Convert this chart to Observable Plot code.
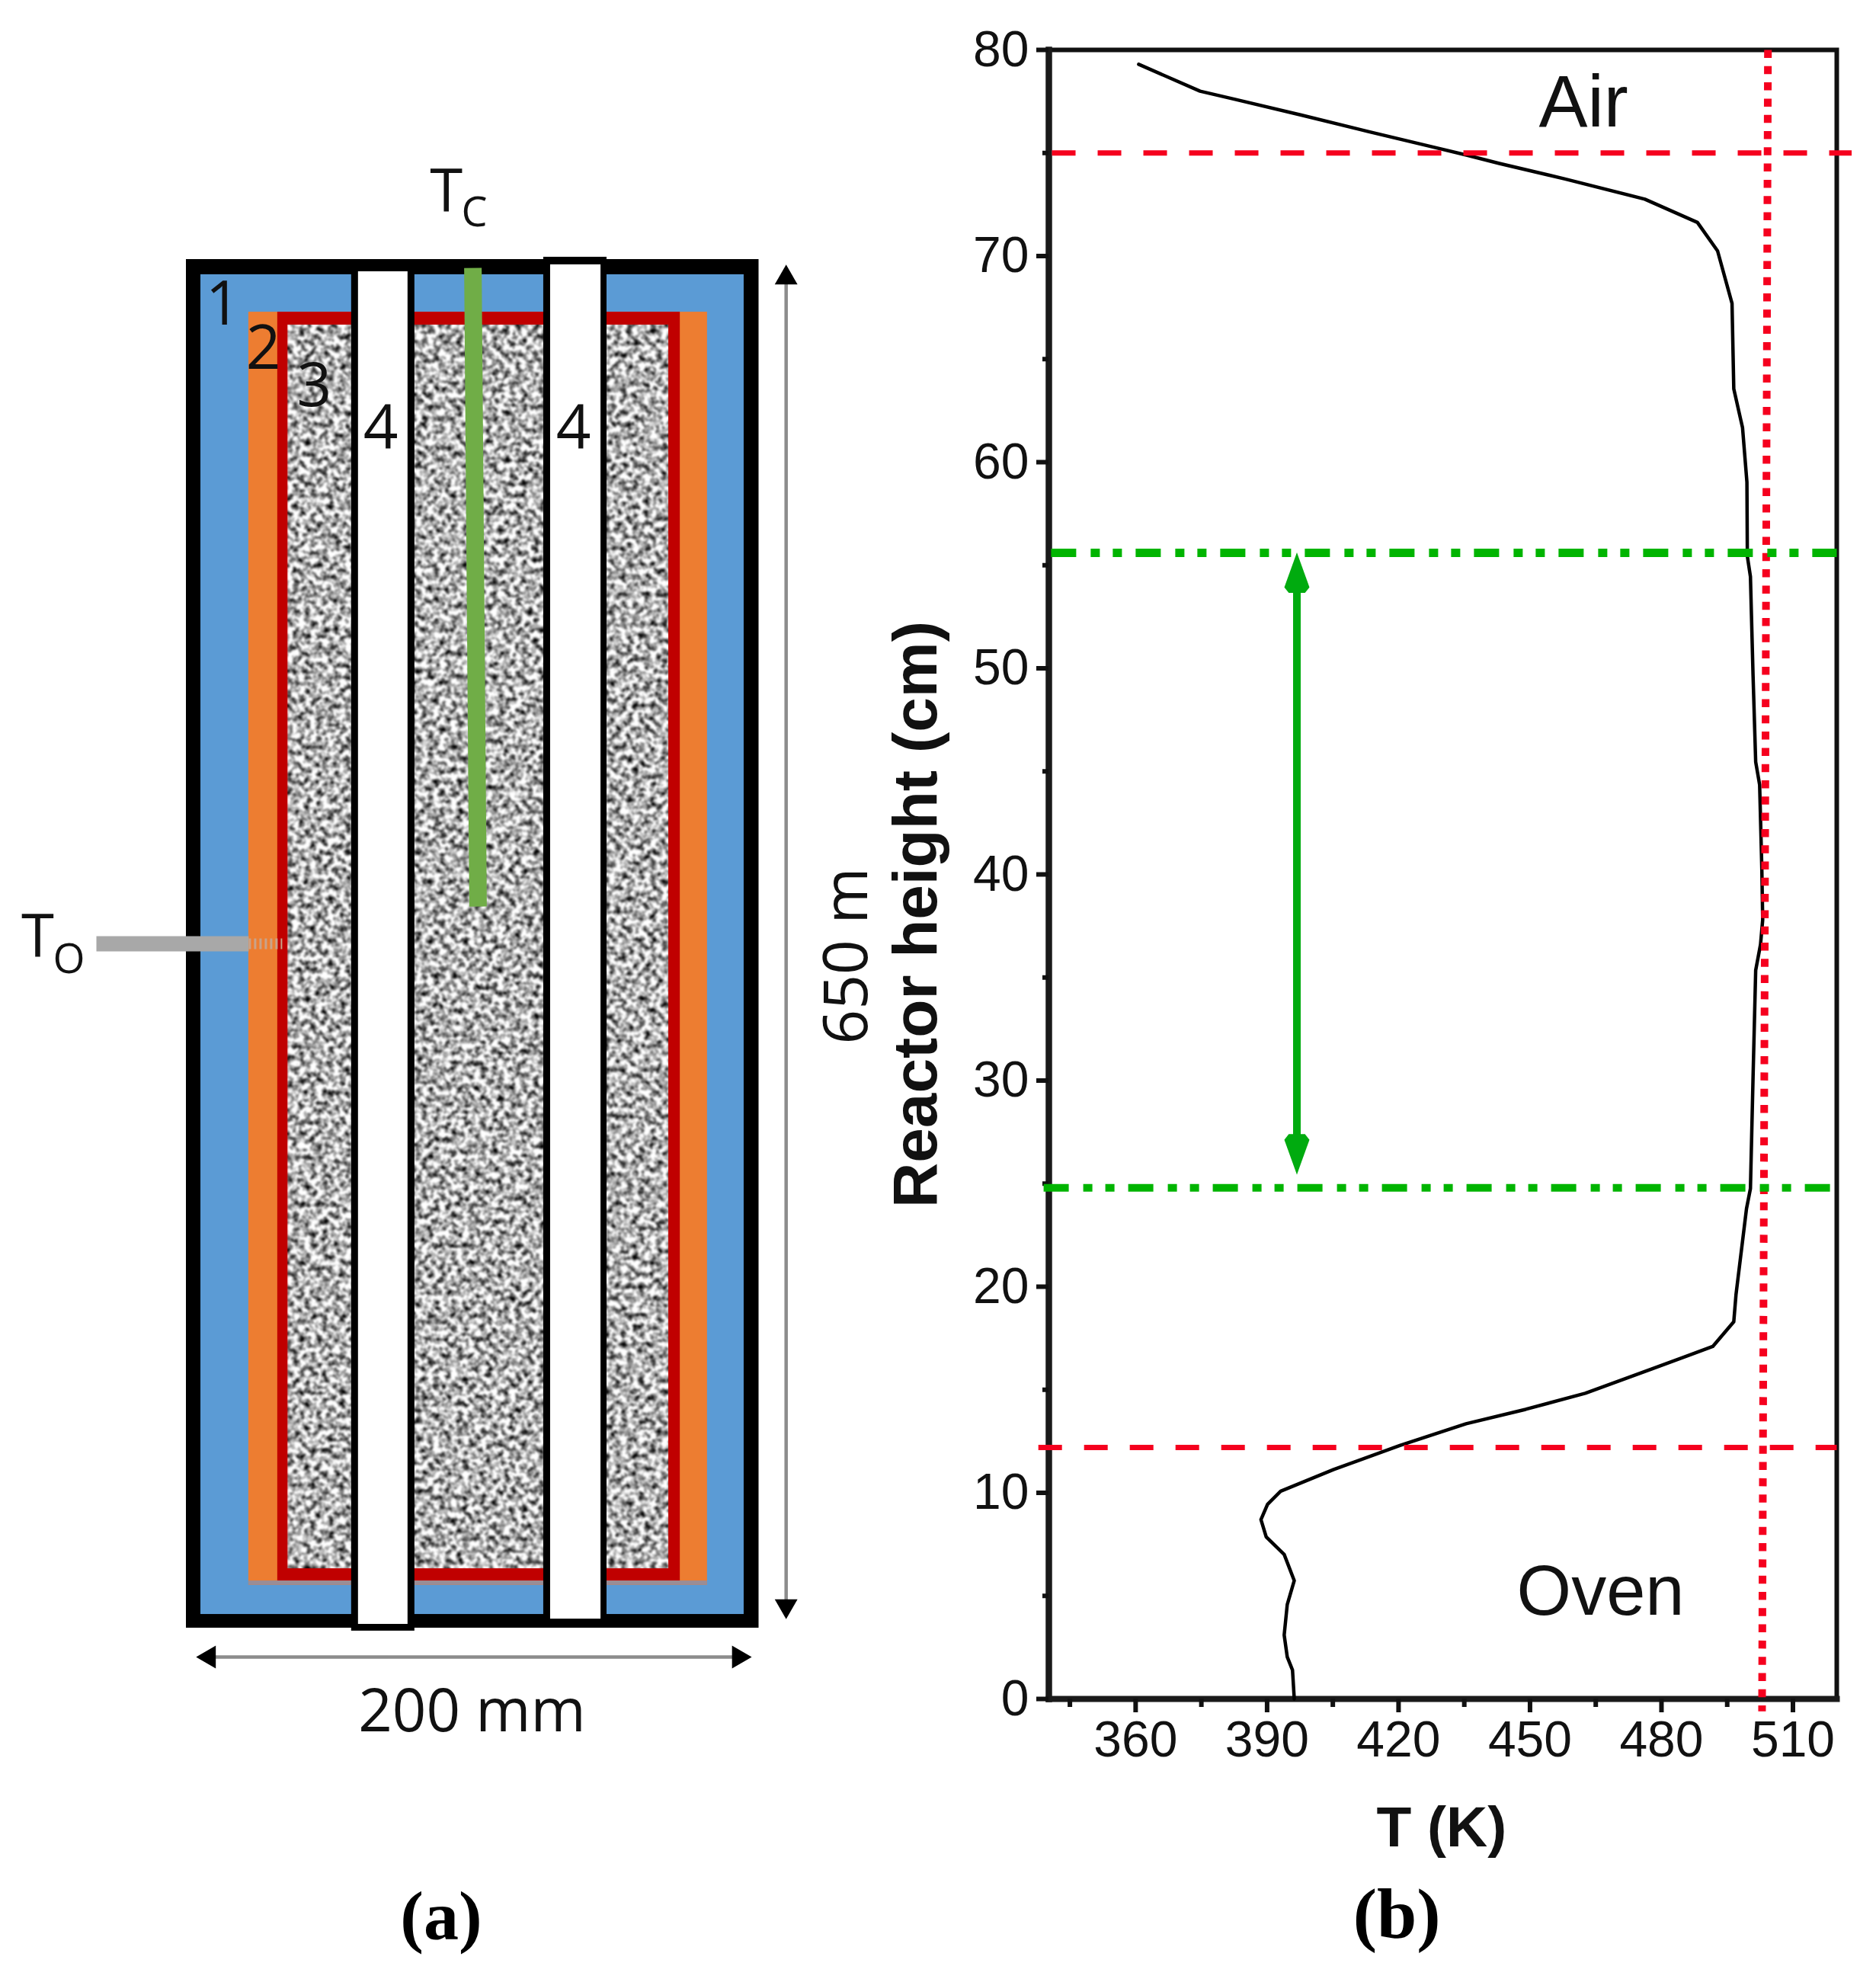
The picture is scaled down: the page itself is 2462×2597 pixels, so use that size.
<!DOCTYPE html>
<html>
<head>
<meta charset="utf-8">
<script src="https://cdn.jsdelivr.net/npm/d3@7"></script>
<script src="https://cdn.jsdelivr.net/npm/@observablehq/plot@0.6"></script>
<style>
html,body{margin:0;padding:0;background:#fff;}
#page{display:flex;width:2462px;height:2597px;}
#page svg{display:block;flex:none;overflow:visible;max-width:none;background:transparent;}
</style>
</head>
<body>
<div id="page"></div>
<script>
// ---- Panel (b): temperature profile
const temperatureK = [360.7,374.7,382.7,397.8,412.9,428,435.5,443,458,476.2,488.2,492.8,496.1,496.5,498.5,499.5,499.6,500.3,500.9,501.5,502.4,502.9,503.1,502.6,501.5,500.9,500.3,499.4,497,496.5,491.7,477.7,462.6,449,435.4,420.3,405.2,393.1,390.1,388.6,389.8,393.9,396.2,394.6,393.9,394.6,395.8,396.2];
const heightCm = [79.3,78,77.6,76.84,76.05,75.28,74.9,74.49,73.74,72.76,71.63,70.25,67.7,63.56,61.67,59.03,55.43,54.45,49.64,45.46,44.35,40.28,37.8,36.6,35.35,30.18,24.76,23.78,19.6,18.3,17.1,16,14.83,14.05,13.35,12.3,11.13,10.08,9.44,8.7,7.86,7.01,5.74,4.58,3.1,2.04,1.4,0];
const xMajorTicks = [360,390,420,450,480,510];
const xMinorTicks = [345,375,405,435,465,495];
const yMajorTicks = [0,10,20,30,40,50,60,70,80];
const yMinorTicks = [5,15,25,35,45,55,65,75];
const redDashedLevels = [{h:75,from:340.9,to:523.4},{h:12.2,from:337.8,to:520}];
const greenLevels = [{h:55.6,from:340.7,w:11},{h:24.8,from:339,w:10}];
const redDotted = {t:[504.3,502.95],h:[80,-0.6]};
const greenSpan = {t:396.8,top:54,bottom:26,headTop:54.64,headBottom:26.42};
const chartLabels = ["Air","Oven"];
const chartLabelT = [462.2,466.1];
const chartLabelH = [76.3,4.07];
const chartLabelSize = [96,92];

// ---- Panel (a): reactor schematic, in mm
const layerNames = ["casing","insulation","heater","shell","purple","packing"];
const layerX1 = [0,5.06,21.8,31.9,21.8,35.4];
const layerX2 = [200,194.8,182,172.5,182,168.5];
const layerY1 = [0,6.5,20.4,22.4,20.4,28.2];
const layerY2 = [650,642.8,625,625,22.4,618.9];
const layerFill = ["#000000","#5b9bd5","#ed7d31","#c00000","#9a8d96",null];
const tubeX1 = [57.7,124.8];
const tubeX2 = [79.8,146.9];
const tubeY1 = [-1.4,0];
const tubeY2 = [650,651.1];
const boreX1 = [60.1,127.2];
const boreX2 = [77.4,144.8];
const boreY1 = [1.8,4.3];
const boreY2 = [644.2,647.5];
const probeC = {x:[100.1,101.9],y:[646,342.7]};
const probeO = {x:[-31.4,21.8],y:[325,325]};
const probeOTip = {x:[21.8,33.5],y:[325,325]};
const arrowV = {x:209.5,y:[10.5,641.3]};
const arrowH = {y:-13.75,x:[8,192.9]};
const sansLabels = ["1","2","3","4","4","200 mm","T","C","T","O"];
const sansX = [12.8,26.9,44.7,67.9,135.2,99.8,90.8,100.6,-51.9,-41];
const sansY = [618.9,597.9,580.2,560.6,560.6,-49.2,672.8,665.6,318.5,310.9];
const sansSize = [80,80,80,80,80,78,78,54,78,54];

const sans = "'Open Sans','Noto Sans',sans-serif";
const arial = "'Liberation Sans',Arial,sans-serif";
const serif = "'Liberation Serif','Times New Roman',serif";
const idx = a => a.map((_, i) => i);

// narrow head of the green double arrow
const dart = {draw(c, size) {
  const s = Math.sqrt(size);
  c.moveTo(0, -s);
  c.lineTo(0.62 * s, 0.72 * s);
  c.lineTo(0.4 * s, s);
  c.lineTo(-0.4 * s, s);
  c.lineTo(-0.62 * s, 0.72 * s);
  c.closePath();
}};

const solidLayers = idx(layerNames).filter(i => layerFill[i]);
const packing = layerNames.indexOf("packing");

const schematic = Plot.plot({
  width: 1180, height: 2597,
  marginLeft: 244, marginRight: 184.5, marginTop: 340, marginBottom: 461,
  x: {domain: [0,200], axis: null},
  y: {domain: [0,650], axis: null},
  marks: [
    Plot.rectX(solidLayers, {x1: i => layerX1[i], x2: i => layerX2[i], y1: i => layerY1[i], y2: i => layerY2[i], fill: i => layerFill[i]}),
    Plot.rectX([packing], {x1: i => layerX1[i], x2: i => layerX2[i], y1: i => layerY1[i], y2: i => layerY2[i], fill: "#000", imageFilter: "url(#grain)"}),
    Plot.rectX(idx(tubeX1), {x1: i => tubeX1[i], x2: i => tubeX2[i], y1: i => tubeY1[i], y2: i => tubeY2[i], fill: "#000"}),
    Plot.rectX(idx(boreX1), {x1: i => boreX1[i], x2: i => boreX2[i], y1: i => boreY1[i], y2: i => boreY2[i], fill: "#fff"}),
    Plot.line(idx(probeC.x), {x: i => probeC.x[i], y: i => probeC.y[i], stroke: "#70ad47", strokeWidth: 23, strokeLinecap: "butt"}),
    Plot.line(idx(probeO.x), {x: i => probeO.x[i], y: i => probeO.y[i], stroke: "#a8a8a8", strokeWidth: 20, strokeLinecap: "butt"}),
    Plot.line(idx(probeOTip.x), {x: i => probeOTip.x[i], y: i => probeOTip.y[i], stroke: "#c9a38a", strokeWidth: 14, strokeLinecap: "butt", strokeDasharray: "3 4"}),
    Plot.line(idx(arrowV.y), {x: () => arrowV.x, y: i => arrowV.y[i], stroke: "#8c8c8c", strokeWidth: 4.5}),
    Plot.line(idx(arrowH.x), {x: i => arrowH.x[i], y: () => arrowH.y, stroke: "#8c8c8c", strokeWidth: 4.5}),
    Plot.dot(arrowV.y, {x: () => arrowV.x, y: d => d, symbol: "triangle", r: 11.1, fill: "#000", stroke: null, rotate: (d, i) => i ? 0 : 180}),
    Plot.dot(arrowH.x, {x: d => d, y: () => arrowH.y, symbol: "triangle", r: 11.1, fill: "#000", stroke: null, rotate: (d, i) => i ? 90 : -90}),
    Plot.text(sansLabels, {x: (d, i) => sansX[i], y: (d, i) => sansY[i], text: d => d, fontSize: (d, i) => sansSize[i], fontFamily: sans, fill: "#111", lineAnchor: "bottom", textAnchor: "middle"}),
    Plot.text(["650 m"], {x: [237.7], y: [319.2], text: d => d, rotate: -90, fontSize: 80, fontFamily: sans, fill: "#111", lineAnchor: "bottom"}),
    Plot.text(["(a)"], {x: [89], y: [-147.7], text: d => d, fontSize: 92, fontFamily: serif, fontWeight: "bold", fill: "#000", lineAnchor: "bottom"})
  ]
});
schematic.insertAdjacentHTML("afterbegin", `<defs><filter id="grain" x="0" y="0" width="1" height="1" color-interpolation-filters="sRGB">
  <feTurbulence type="fractalNoise" baseFrequency="0.13" numOctaves="2" seed="7" result="n"/>
  <feColorMatrix in="n" type="matrix" values="2.3 0 0 0 -0.45  2.3 0 0 0 -0.45  2.3 0 0 0 -0.45  0 0 0 0 1" result="g"/>
  <feGaussianBlur in="g" stdDeviation="1" result="b"/>
  <feComposite in="b" in2="SourceAlpha" operator="in"/>
</filter></defs>`);

const noLabel = () => "";
const chart = Plot.plot({
  width: 1282, height: 2597,
  marginLeft: 196, marginRight: 52, marginTop: 65, marginBottom: 368,
  x: {domain: [340.2,520], axis: null},
  y: {domain: [0,80], axis: null},
  marks: [
    Plot.frame({stroke: "#111", strokeWidth: 6}),
    Plot.frame({anchor: "left", stroke: "#1a1a1a", strokeWidth: 8.5}),
    Plot.frame({anchor: "bottom", stroke: "#1a1a1a", strokeWidth: 8}),
    Plot.axisY(yMajorTicks, {anchor: "left", tickSize: 16, tickPadding: 10, fontSize: 66, fontFamily: arial, fill: "#111", stroke: "#111", strokeWidth: 6, label: null}),
    Plot.axisY(yMinorTicks, {anchor: "left", tickSize: 8, strokeWidth: 6, stroke: "#111", tickFormat: noLabel, label: null}),
    Plot.axisX(xMajorTicks, {anchor: "bottom", tickSize: 18, tickPadding: 11, fontSize: 66, fontFamily: arial, fill: "#111", stroke: "#111", strokeWidth: 6, label: null}),
    Plot.axisX(xMinorTicks, {anchor: "bottom", tickSize: 11, strokeWidth: 6, stroke: "#111", tickFormat: noLabel, label: null}),
    Plot.line(idx(temperatureK), {x: i => temperatureK[i], y: i => heightCm[i], stroke: "#000", strokeWidth: 4.5, curve: "linear"}),
    ...redDashedLevels.map(r => Plot.line([r.from, r.to], {x: d => d, y: () => r.h, stroke: "#f5001e", strokeWidth: 7, strokeLinecap: "butt", strokeDasharray: "31 29"})),
    Plot.line(idx(redDotted.t), {x: i => redDotted.t[i], y: i => redDotted.h[i], stroke: "#f5001e", strokeWidth: 10, strokeLinecap: "butt", strokeDasharray: "10.5 10.8"}),
    ...greenLevels.map(g => Plot.line([g.from, 520], {x: d => d, y: () => g.h, stroke: "#00b400", strokeWidth: g.w, strokeLinecap: "butt", strokeDasharray: "33 19 12 17 12 18"})),
    Plot.line([greenSpan.top, greenSpan.bottom], {x: () => greenSpan.t, y: d => d, stroke: "#00ab0f", strokeWidth: 10, strokeLinecap: "butt"}),
    Plot.dot([greenSpan.headTop, greenSpan.headBottom], {x: () => greenSpan.t, y: d => d, symbol: dart, r: 15, fill: "#00ab0f", stroke: null, rotate: (d, i) => i ? 180 : 0}),
    Plot.text(chartLabels, {x: (d, i) => chartLabelT[i], y: (d, i) => chartLabelH[i], text: d => d, fontSize: (d, i) => chartLabelSize[i], fontFamily: arial, fill: "#111", lineAnchor: "bottom"}),
    Plot.text(["T (K)"], {x: [429.8], y: [-7.17], text: d => d, fontSize: 75, fontWeight: "bold", fontFamily: arial, fill: "#111", lineAnchor: "bottom"}),
    Plot.text(["Reactor height (cm)"], {x: [314.6], y: [38.06], text: d => d, rotate: -90, fontSize: 82, fontWeight: "bold", fontFamily: arial, fill: "#111", lineAnchor: "bottom"}),
    Plot.text(["(b)"], {x: [419.6], y: [-11.6], text: d => d, fontSize: 94, fontWeight: "bold", fontFamily: serif, fill: "#000", lineAnchor: "bottom"})
  ]
});

const page = document.getElementById("page");
page.append(schematic, chart);
</script>
</body>
</html>
